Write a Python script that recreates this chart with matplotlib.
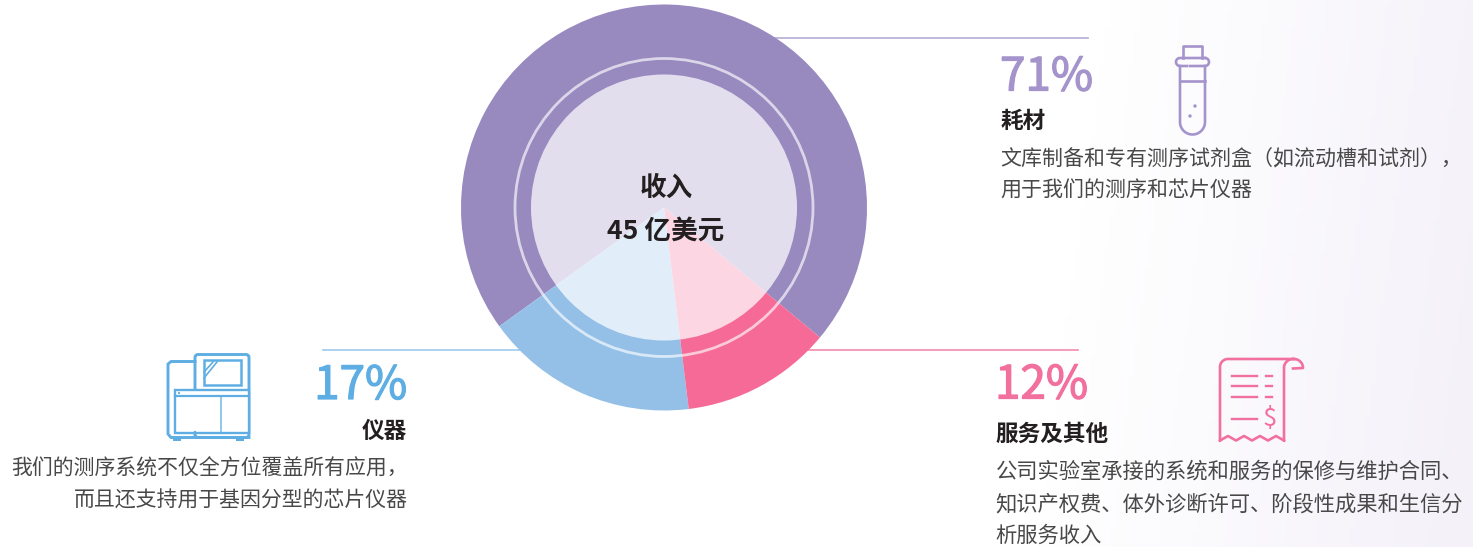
import numpy as np
import matplotlib

matplotlib.use("Agg")
import matplotlib.patheffects as pe
import matplotlib.pyplot as plt
from matplotlib.colors import LinearSegmentedColormap
from matplotlib.patches import Circle, FancyBboxPatch, Rectangle

plt.rcParams["font.family"] = ["Noto Sans CJK SC", "DejaVu Sans"]

FIG_W, FIG_H = 1473, 547
CX, CY, R_OUTER = 664, 207.5, 203
R_DISC, R_RING = 133, 149

categories = ["耗材", "仪器", "服务及其他"]
shares = [71, 17, 12]
share_labels = ["71%", "17%", "12%"]
colors = ["#9889BF", "#94C0E8", "#F56A96"]
total_title = "收入"
total_value = "45 亿美元"
consumables_text = ["文库制备和专有测序试剂盒（如流动槽和试剂），", "用于我们的测序和芯片仪器"]
instrument_text = ["我们的测序系统不仅全方位覆盖所有应用，", "而且还支持用于基因分型的芯片仪器"]
service_text = ["公司实验室承接的系统和服务的保修与维护合同、", "知识产权费、体外诊断许可、阶段性成果和生信分", "析服务收入"]

PURPLE_ICON = "#A594CC"
BLUE_ICON = "#5FAEE3"
PINK_ICON = "#F2709E"


def overlay_axes(fig):
    ax = fig.add_axes([0, 0, 1, 1])
    ax.set_xlim(0, FIG_W)
    ax.set_ylim(FIG_H, 0)
    ax.axis("off")
    ax.patch.set_alpha(0)
    return ax


def round_box(ax, x0, y0, x1, y1, r, color, lw):
    ax.add_patch(FancyBboxPatch((x0 + r, y0 + r), x1 - x0 - 2 * r, y1 - y0 - 2 * r,
                                boxstyle=f"round,pad={r},rounding_size={r}",
                                fc="none", ec=color, lw=lw))


def arc_pts(cx, cy, r, a0, a1):
    # angles in degrees, measured on the y-down pixel canvas
    t = np.radians(np.linspace(a0, a1, 30))
    return cx + r * np.cos(t), cy + r * np.sin(t)


def draw_tube(ax, color):
    lw = 1.9
    ax.plot([1183, 1183, 1202, 1202], [58, 46, 46, 58], color=color, lw=lw)
    # collar, its lower edge is broken in the middle
    xs, ys = arc_pts(1180, 62, 4, 90, 270)
    ax.plot(np.r_[1187, xs, 1205, ], np.r_[66, ys, 58], color=color, lw=lw)
    xs, ys = arc_pts(1205, 62, 4, -90, 90)
    ax.plot(np.r_[xs, 1190], np.r_[ys, 66], color=color, lw=lw)
    xs, ys = arc_pts(1192.5, 122, 12.5, 0, 180)
    ax.plot(np.r_[1205, xs, 1180, 1180], np.r_[66, ys, 66, 66], color=color, lw=lw)
    ax.plot([1180, 1205], [81, 81], color=color, lw=lw)
    ax.add_patch(Circle((1195, 106), 1.7, fc=color, lw=0))
    ax.add_patch(Circle((1190, 116), 1.7, fc=color, lw=0))


def draw_instrument(ax, color):
    lw = 2.1
    round_box(ax, 195, 354.5, 249, 437.5, 3, color, lw)
    ax.plot([195, 171, 168, 168, 171, 249], [361.5, 361.5, 364, 434, 437.5, 437.5], color=color, lw=lw)
    ax.add_patch(Rectangle((203.5, 360), 37, 25, fc="none", ec=color, lw=1.8))
    ax.plot([204, 213], [372, 362], color=color, lw=1.2)
    ax.plot([204, 217], [378, 362], color=color, lw=1.2)
    ax.add_patch(Rectangle((175, 389.5), 74, 43, fc="white", ec=color, lw=1.7))
    ax.plot([175, 249], [396, 396], color=color, lw=1.6)
    ax.plot([220.7, 220.7], [396, 432], color=color, lw=1.2, alpha=0.8)
    ax.plot([195, 195], [432, 437], color=color, lw=1.6)
    ax.add_patch(Circle((179, 393), 1.1, fc=color, lw=0))
    ax.add_patch(Rectangle((173, 438), 8, 3.3, fc=color, lw=0))
    ax.add_patch(Rectangle((236, 438), 8, 3.3, fc=color, lw=0))


def draw_receipt(ax, color):
    lw = 1.9
    xs, ys = arc_pts(1228, 367, 8, 180, 270)
    ax.plot(np.r_[1220, xs, 1294], np.r_[440.5, ys, 359], color=color, lw=lw)
    xs, ys = arc_pts(1294, 368, 9, -90, 0)
    ax.plot(np.r_[xs, 1293], np.r_[ys, 368.5], color=color, lw=lw)
    xs, ys = arc_pts(1293, 368, 9, 180, 270)
    ax.plot(np.r_[1284, xs], np.r_[440.5, ys], color=color, lw=lw)
    ax.plot([1220, 1228, 1236, 1244, 1252, 1260, 1268, 1276, 1284],
            [440.5, 436, 440.5, 436, 440.5, 436, 440.5, 436, 440.5], color=color, lw=lw)
    for y in [376, 386, 396.5]:
        ax.plot([1232, 1257], [y, y], color=color, lw=1.7)
        ax.plot([1266, 1272], [y, y], color=color, lw=1.7)
    ax.plot([1232, 1257], [418.7, 418.7], color=color, lw=1.7)
    ax.text(1270, 426, "$", color=color, fontsize=18.5, ha="center", va="baseline", weight="medium")


fig = plt.figure(figsize=(FIG_W / 100, FIG_H / 100), dpi=100)

# page background fades to pale lavender towards the lower right
bg = fig.add_axes([0, 0, 1, 1])
gx, gy = np.meshgrid(np.linspace(0, 1, 300), np.linspace(0, 1, 100))
bg.imshow(gx + 0.05 * gy, extent=(0, 1, 0, 1), aspect="auto", vmin=0, vmax=1.05,
          cmap=LinearSegmentedColormap.from_list(
              "bg", [(0, "#FFFFFF"), (0.72, "#FFFFFF"), (1, "#F4F1F9")]))
bg.axis("off")

ax = overlay_axes(fig)

# leader lines sit under the donut
ax.plot([770, 1088], [38, 38], color="#B5ABD5", lw=1.2)
ax.plot([323, 520], [350, 350], color="#9CCBEE", lw=1.2)
ax.plot([800, 1078], [350, 350], color="#F58AAE", lw=1.2)

pie_ax = fig.add_axes([(CX - R_OUTER) / FIG_W, 1 - (CY + R_OUTER) / FIG_H,
                       2 * R_OUTER / FIG_W, 2 * R_OUTER / FIG_H])
pie_ax.pie(shares, colors=colors, startangle=-39.8, radius=1, wedgeprops={"linewidth": 0})
pie_ax.set_xlim(-1, 1)
pie_ax.set_ylim(-1, 1)
pie_ax.add_patch(Circle((0, 0), R_DISC / R_OUTER, fc="white", alpha=0.73, lw=0))
pie_ax.add_patch(Circle((0, 0), R_RING / R_OUTER, fc="none", ec="white", alpha=0.65, lw=2.0))

top = overlay_axes(fig)

ink = "#231F20"
body = "#484848"
top.text(666, 188, total_title, ha="center", va="center", fontsize=19.2, weight="bold", color=ink)
top.text(666, 231, total_value, ha="center", va="center", fontsize=19.2, weight="bold", color=ink)

# the installed face is thinner than the original digits, so thicken it a little
pct = dict(fontsize=33, va="baseline", weight="medium")
for label, x, y, color, ha in [(share_labels[0], 1000, 90.5, PURPLE_ICON, "left"),
                               (share_labels[1], 407, 399, BLUE_ICON, "right"),
                               (share_labels[2], 995, 398.5, PINK_ICON, "left")]:
    t = top.text(x, y, label, color=color, ha=ha, **pct)
    t.set_path_effects([pe.withStroke(linewidth=0.9, foreground=color)])

head = dict(fontsize=16.3, weight="bold", color=ink, va="center")
top.text(1000.5, 121.5, categories[0], ha="left", **head)
top.text(407, 431, categories[1], ha="right", **head)
top.text(995.5, 434.5, categories[2], ha="left", **head)

txt = dict(color=body, va="center", weight="light")
for i, line in enumerate(consumables_text):
    top.text(1000, 159 + i * 32, line, ha="left", fontsize=15.1, **txt)
for i, line in enumerate(instrument_text):
    top.text(407.5, 469 + i * 32, line, ha="right", fontsize=15.0, **txt)
for i, line in enumerate(service_text):
    top.text(995.5, 472 + i * 32, line, ha="left", fontsize=15.35, **txt)

draw_tube(top, PURPLE_ICON)
draw_instrument(top, BLUE_ICON)
draw_receipt(top, PINK_ICON)

fig.savefig("out.png", dpi=100)
